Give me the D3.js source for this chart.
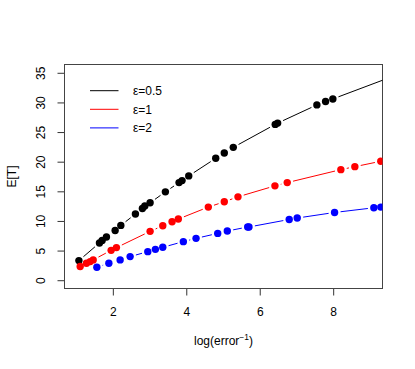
<!DOCTYPE html>
<meta charset="utf-8">
<style>
  body { margin: 0; background: #fff; }
  svg text { font-family: "Liberation Sans", Arial, sans-serif; font-size: 12px; fill: #000; }
</style>
<svg id="chart" width="415" height="369"></svg>
<script src="https://d3js.org/d3.v7.min.js"></script>
<script>

// values, one array per series
var eps05X = [1.076, 1.636, 1.709, 1.826, 2.063, 2.218, 2.615, 2.805, 2.871, 3.015, 3.431,
              3.803, 3.885, 4.067, 4.802, 5.035, 5.280, 6.422, 6.488, 7.556, 7.793, 7.991, 9.6];
var eps05Y = [3.31, 6.29, 6.72, 7.30, 8.40, 9.25, 11.16, 12.10, 12.51, 13.06, 14.91,
              16.47, 16.81, 17.60, 20.57, 21.47, 22.42, 26.29, 26.51, 29.58, 30.16, 30.59, 34.34];
var eps1X = [1.111, 1.282, 1.383, 1.465, 1.954, 2.098, 3.015, 3.360, 3.613, 3.784, 4.600,
             5.035, 5.408, 6.414, 6.749, 8.209, 8.590, 9.297];
var eps1Y = [2.30, 2.86, 3.14, 3.43, 5.04, 5.50, 8.24, 9.19, 9.87, 10.32, 12.34,
             13.23, 14.07, 15.92, 16.47, 18.66, 19.16, 20.07];
var eps2X = [1.565, 1.892, 2.199, 2.471, 2.952, 3.159, 3.360, 3.920, 4.266, 4.856, 5.117,
             5.672, 5.707, 6.803, 7.021, 8.038, 9.107, 9.297];
var eps2Y = [2.19, 2.86, 3.43, 3.98, 4.82, 5.21, 5.55, 6.51, 7.06, 7.90, 8.30,
             8.98, 8.98, 10.25, 10.49, 11.43, 12.22, 12.34];

var seriesNames = ["\u03b5=0.5", "\u03b5=1", "\u03b5=2"];
var seriesColors = ["#000000", "#ff0000", "#0000ff"];
var xTicks = [2, 4, 6, 8];
var yTicks = [0, 5, 10, 15, 20, 25, 30, 35];

var svg = d3.select("svg#chart"),
    box = {left: 64.5, right: 382.5, top: 64.5, bottom: 288.5};

var x = d3.scaleLinear()
    .domain([0.684, 9.343])
    .range([box.left, box.right]);

var y = d3.scaleLinear()
    .domain([-1.4, 36.4])
    .range([box.bottom, box.top]);

svg.append("clipPath")
    .attr("id", "plotclip")
  .append("rect")
    .attr("x", box.left)
    .attr("y", box.top)
    .attr("width", box.right - box.left)
    .attr("height", box.bottom - box.top);

// axes, R style: ticks outside, no labels on the box
var xAxis = svg.append("g")
    .attr("transform", "translate(0," + box.bottom + ")")
    .call(d3.axisBottom(x).tickValues(xTicks).tickSize(7).tickPadding(12).tickFormat(d3.format("d")));
xAxis.select(".domain").remove();
xAxis.selectAll("line").attr("stroke", "#333");
xAxis.selectAll("text").attr("font-size", 12).attr("font-family", null);

var yAxis = svg.append("g")
    .attr("transform", "translate(" + box.left + ",0)")
    .call(d3.axisLeft(y).tickValues(yTicks).tickSize(7).tickFormat(d3.format("d")));
yAxis.select(".domain").remove();
yAxis.selectAll("line").attr("stroke", "#333");
yAxis.selectAll("text")
    .attr("font-size", 12)
    .attr("font-family", null)
    .attr("x", null)
    .attr("dy", null)
    .attr("text-anchor", "middle")
    .attr("transform", "translate(-19.5,0) rotate(-90)");

svg.append("rect")
    .attr("x", box.left)
    .attr("y", box.top)
    .attr("width", box.right - box.left)
    .attr("height", box.bottom - box.top)
    .attr("fill", "none")
    .attr("stroke", "#444")
    .attr("stroke-width", 1);

svg.append("text")
    .attr("x", (box.left + box.right) / 2)
    .attr("y", 345)
    .attr("text-anchor", "middle")
    .html("log(error<tspan dy='-5' font-size='8.5'>\u22121</tspan><tspan dy='5'>)</tspan>");

svg.append("text")
    .attr("transform", "translate(16," + ((box.top + box.bottom) / 2) + ") rotate(-90)")
    .attr("text-anchor", "middle")
    .text("E[T]");

// type="b": segments between points, leaving a gap around each point
var gap = 6;
function segments(xs, ys) {
  var out = [];
  for (var i = 1; i < xs.length; i++) {
    var x0 = x(xs[i-1]), y0 = y(ys[i-1]), x1 = x(xs[i]), y1 = y(ys[i]);
    var dx = x1 - x0, dy = y1 - y0, len = Math.sqrt(dx*dx + dy*dy);
    if (len <= 2 * gap) continue;
    var f = gap / len;
    out.push([x0 + f*dx, y0 + f*dy, x1 - f*dx, y1 - f*dy]);
  }
  return out;
}

var series = [
  {xs: eps05X, ys: eps05Y},
  {xs: eps1X, ys: eps1Y},
  {xs: eps2X, ys: eps2Y}
];

var plot = svg.append("g").attr("clip-path", "url(#plotclip)");

series.forEach(function(s, k) {
  plot.append("g")
    .selectAll("line")
    .data(segments(s.xs, s.ys))
    .enter().append("line")
      .attr("x1", function(d) { return d[0]; })
      .attr("y1", function(d) { return d[1]; })
      .attr("x2", function(d) { return d[2]; })
      .attr("y2", function(d) { return d[3]; })
      .attr("stroke", seriesColors[k])
      .attr("stroke-width", 1);

  plot.append("g")
    .selectAll("circle")
    .data(d3.range(s.xs.length))
    .enter().append("circle")
      .attr("cx", function(i) { return x(s.xs[i]); })
      .attr("cy", function(i) { return y(s.ys[i]); })
      .attr("r", 3.7)
      .attr("fill", seriesColors[k]);
});

// legend
var legend = svg.append("g");
seriesNames.forEach(function(name, k) {
  var ly = 90.7 + k * 18.6;
  legend.append("line")
    .attr("x1", 90)
    .attr("x2", 118.5)
    .attr("y1", ly)
    .attr("y2", ly)
    .attr("stroke", seriesColors[k])
    .attr("stroke-width", 1);
  legend.append("text")
    .attr("x", 133)
    .attr("y", ly)
    .attr("dy", "0.36em")
    .text(name);
});

</script>
